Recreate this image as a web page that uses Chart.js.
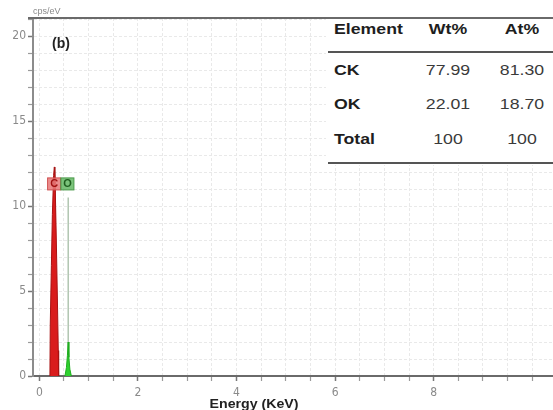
<!DOCTYPE html>
<html>
<head>
<meta charset="utf-8">
<script src="https://cdn.jsdelivr.net/npm/chart.js@4/dist/chart.umd.min.js"></script>
<style>
  html, body { margin: 0; padding: 0; background: #fff; }
  #wrap { position: relative; width: 553px; height: 410px; overflow: hidden; }
  #c { position: absolute; left: 0; top: 0; }
  .t { position: absolute; white-space: nowrap; font-family: "Liberation Sans", Arial, sans-serif; line-height: 1; }
</style>
</head>
<body>
<div id="wrap">
  <canvas id="c" width="553" height="410"></canvas>
</div>
<script>
// ---- data ----
const cEnergy = [0.215, 0.222, 0.245, 0.265, 0.29, 0.305, 0.32, 0.345, 0.37, 0.385, 0.392];
const cCounts = [0, 3.0, 6.5, 9.5, 11.8, 12.3, 11.5, 8.0, 4.0, 1.5, 0];
const oEnergy = [0.52, 0.55, 0.57, 0.585, 0.60, 0.62, 0.65];
const oCounts = [0, 0.5, 1.2, 2.0, 1.1, 0.4, 0];
const markerNames = ['C', 'O'];
const markerEnergy = [0.315, 0.585];
const markerTop = [12.3, 10.5];
const labelEnergy = [0.30, 0.57];
const labelHeight = [11.3, 11.3];
const xTickValues = [0, 0.5, 1, 1.5, 2, 2.5, 3, 3.5, 4, 4.5, 5, 5.5, 6, 6.5, 7, 7.5, 8, 8.5, 9, 9.5, 10];
const xTickLabels = ['0', '2', '4', '6', '8'];
const yTickValues = [0,1,2,3,4,5,6,7,8,9,10,11,12,13,14,15,16,17,18,19,20,21];
const yTickLabels = ['0', '5', '10', '15', '20'];
const tableHeader = ['Element', 'Wt%', 'At%'];
const tableRows = [['CK', '77.99', '81.30'], ['OK', '22.01', '18.70'], ['Total', '100', '100']];

const toXY = (xs, ys) => xs.map((x, i) => ({ x: x, y: ys[i] }));

const peakLabels = {
  id: 'peakLabels',
  afterDatasetsDraw(chart) {
    const { ctx, scales } = chart;
    const cols = [
      { fill: 'rgba(232,120,120,0.85)', stroke: '#d05050', text: '#a01010' },
      { fill: 'rgba(100,185,100,0.85)', stroke: '#4a9a4a', text: '#1f5f1f' }
    ];
    markerNames.forEach((n, i) => {
      const cx = scales.x.getPixelForValue(labelEnergy[i]);
      const cy = scales.y.getPixelForValue(labelHeight[i]);
      ctx.save();
      ctx.fillStyle = cols[i].fill;
      ctx.strokeStyle = cols[i].stroke;
      ctx.lineWidth = 1;
      ctx.fillRect(cx - 6.5, cy - 6, 13, 12);
      ctx.strokeRect(cx - 6.5, cy - 6, 13, 12);
      ctx.fillStyle = cols[i].text;
      ctx.font = 'bold 11px "Liberation Sans", Arial, sans-serif';
      ctx.textAlign = 'center';
      ctx.textBaseline = 'middle';
      ctx.fillText(n, cx, cy + 0.5);
      ctx.restore();
    });
  }
};

const frame = {
  id: 'frame',
  afterDraw(chart) {
    const { ctx, chartArea } = chart;
    ctx.save();
    ctx.strokeStyle = '#6a6a6a';
    ctx.lineWidth = 2;
    ctx.beginPath();
    ctx.moveTo(28, chartArea.top);
    ctx.lineTo(553, chartArea.top);
    ctx.stroke();
    ctx.restore();
  }
};

const isLabelledX = v => xTickLabels.includes(String(v));
const isLabelledY = v => yTickLabels.includes(String(v));

new Chart(document.getElementById('c'), {
  type: 'scatter',
  data: {
    datasets: [
      { data: toXY(cEnergy, cCounts), showLine: true, fill: 'origin', backgroundColor: '#d91c1c', borderColor: '#a81212', borderWidth: 1, pointRadius: 0, tension: 0 },
      { data: toXY(oEnergy, oCounts), showLine: true, fill: 'origin', backgroundColor: '#2fd12f', borderColor: '#1fae1f', borderWidth: 1, pointRadius: 0, tension: 0 },
      { data: [{ x: markerEnergy[0], y: 0 }, { x: markerEnergy[0], y: markerTop[0] }], showLine: true, borderColor: '#a01818', borderWidth: 1.5, pointRadius: 0 },
      { data: [{ x: markerEnergy[1], y: 0 }, { x: markerEnergy[1], y: markerTop[1] }], showLine: true, borderColor: '#8aa88a', borderWidth: 1, pointRadius: 0 }
    ]
  },
  options: {
    responsive: false,
    animation: false,
    events: [],
    layout: { padding: { top: 18, left: 0, right: 0, bottom: 0 } },
    plugins: { legend: { display: false }, tooltip: { enabled: false } },
    scales: {
      x: {
        type: 'linear', min: -0.128, max: 10.42,
        afterFit: s => { s.height = 34; },
        afterBuildTicks: s => { s.ticks = xTickValues.map(v => ({ value: v })); },
        ticks: {
          autoSkip: false, maxRotation: 0, padding: 5,
          color: '#8a8a8a',
          font: { family: '"Liberation Sans Narrow", "DejaVu Sans Condensed", sans-serif', size: 12 },
          callback: v => (isLabelledX(v) ? String(v) : '')
        },
        grid: {
          color: '#e9e9e9', lineWidth: 1, tickLength: 5,
          tickColor: c => (isLabelledX(c.tick && c.tick.value) ? '#777' : '#9a9a9a'),
          tickWidth: c => (isLabelledX(c.tick && c.tick.value) ? 1.5 : 1.2)
        },
        border: { color: '#6a6a6a', width: 2, dash: [3, 2] }
      },
      y: {
        type: 'linear', min: 0, max: 21.06,
        afterFit: s => { s.width = 33; },
        afterBuildTicks: s => { s.ticks = yTickValues.map(v => ({ value: v })); },
        ticks: {
          autoSkip: false, padding: 2,
          color: '#8a8a8a',
          font: { family: '"Liberation Sans Narrow", "DejaVu Sans Condensed", sans-serif', size: 12 },
          callback: v => (isLabelledY(v) ? String(v) : '')
        },
        grid: {
          color: '#e9e9e9', lineWidth: 1, tickLength: 5,
          tickColor: c => (isLabelledY(c.tick && c.tick.value) ? '#777' : '#9a9a9a'),
          tickWidth: c => (isLabelledY(c.tick && c.tick.value) ? 1.5 : 1.2)
        },
        border: { color: '#8c8c8c', width: 2, dash: [3, 2] }
      }
    }
  },
  plugins: [peakLabels, frame]
});

// ---- text overlays and the composition table ----
const wrap = document.getElementById('wrap');
function put(text, x, y, css, anchor, stretch) {
  const d = document.createElement('div');
  d.className = 't';
  d.textContent = text;
  d.style.cssText += css;
  d.style.left = x + 'px';
  d.style.top = y + 'px';
  const sc = stretch ? ' scaleX(1.18)' : '';
  if (anchor === 'left') {
    d.style.transformOrigin = 'left center';
    d.style.transform = 'translate(0,-50%)' + sc;
  } else {
    d.style.transformOrigin = 'center center';
    d.style.transform = 'translate(-50%,-50%)' + sc;
  }
  wrap.appendChild(d);
  return d;
}
// table background box
const box = document.createElement('div');
box.style.cssText = 'position:absolute;left:326px;top:19px;width:227px;height:146px;background:#fff;';
wrap.appendChild(box);
// table rules
[52.3, 163.3].forEach(y => {
  const l = document.createElement('div');
  l.style.cssText = 'position:absolute;left:328px;width:225px;height:2px;background:#555;top:' + (y - 1) + 'px;';
  wrap.appendChild(l);
});
const colX = [334, 448, 522];
const rowY = [27.5, 68.7, 103, 137.5];
tableHeader.forEach((h, j) => {
  put(h, colX[j], rowY[0], 'font-size:15px;font-weight:bold;color:#1e1e1e;', j === 0 ? 'left' : 'center', true);
});
tableRows.forEach((r, i) => {
  r.forEach((v, j) => {
    put(v, colX[j], rowY[i + 1], 'font-size:15px;' + (j === 0 ? 'font-weight:bold;color:#1e1e1e;' : 'color:#3a3a3a;'), j === 0 ? 'left' : 'center', true);
  });
});
put('cps/eV', 33, 11, 'font-size:9px;color:#8a8a8a;', 'left', false);
put('(b)', 52, 43, 'font-size:14px;font-weight:bold;color:#222;', 'left', false);
put('Energy (KeV)', 254, 404, 'font-size:12px;font-weight:bold;color:#222;', 'center', true);
</script>
</body>
</html>
